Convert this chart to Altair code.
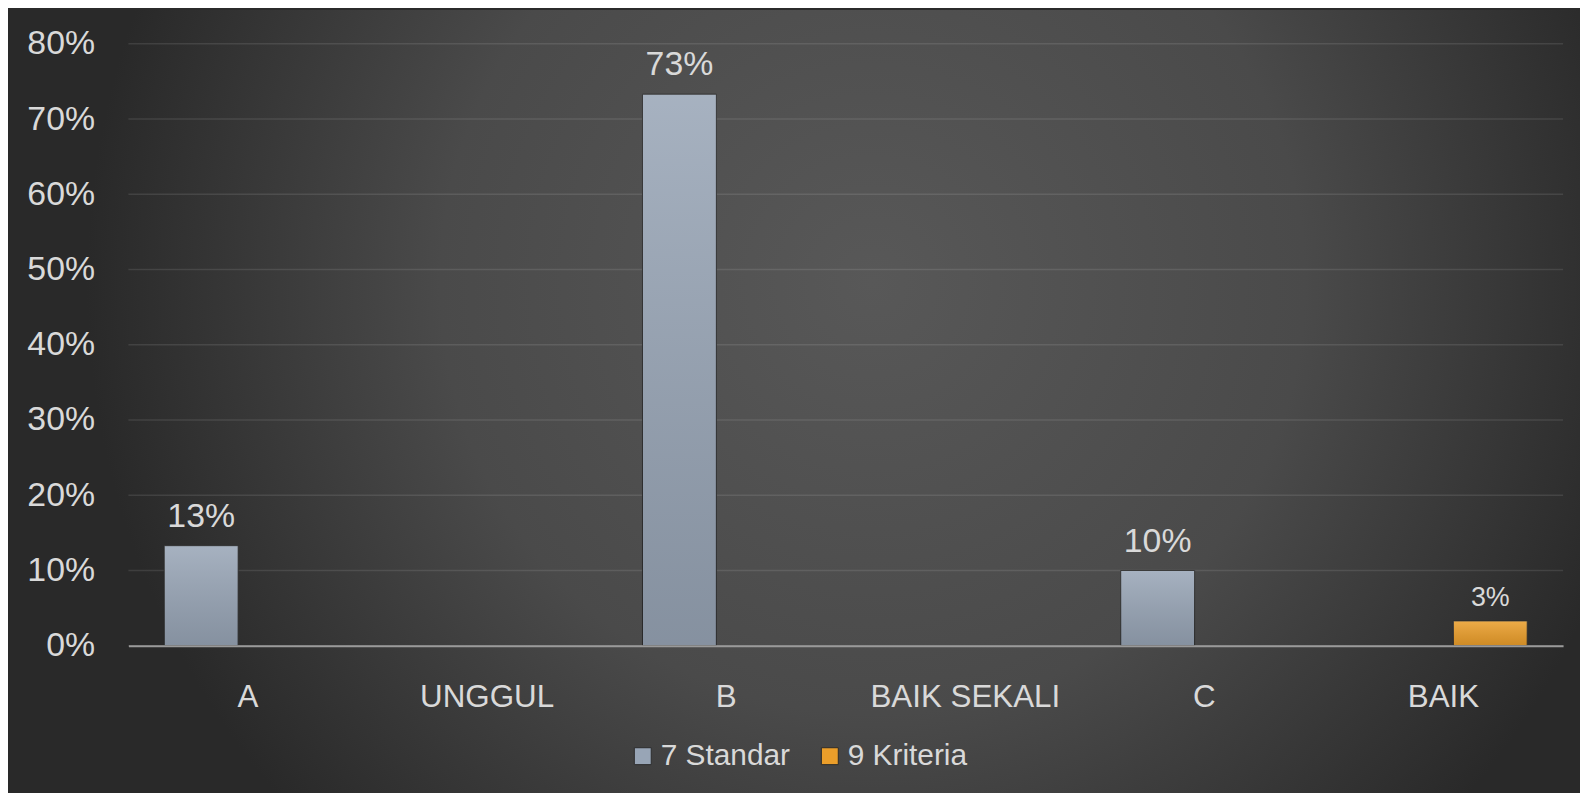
import altair as alt
import pandas as pd

categories = ["A", "UNGGUL", "B", "BAIK SEKALI", "C", "BAIK"]
series_names = ["7 Standar", "9 Kriteria"]
standar = [0.133, None, 0.733, None, 0.10, None]
kriteria = [None, None, None, None, None, 0.033]
y_ticks = [0.0, 0.1, 0.2, 0.3, 0.4, 0.5, 0.6, 0.7, 0.8]

rows = []
for c, v in zip(categories, standar):
    if v is not None:
        rows.append({"cat": c, "series": series_names[0], "value": v})
for c, v in zip(categories, kriteria):
    if v is not None:
        rows.append({"cat": c, "series": series_names[1], "value": v})
df = pd.DataFrame(rows)

W, H = 1442, 605
PL, PT, PR, PB = 121, 34, 17, 146
FONT = "Liberation Sans"
TXT = "#d9d9d9"

bg = alt.Chart(pd.DataFrame({"k": [0]})).mark_rect(
    fill=alt.RadialGradient(
        gradient="radial",
        x1=0.55, y1=0.23, r1=0.0,
        x2=0.55, y2=0.23, r2=0.5,
        stops=[
            alt.GradientStop(color="#585858", offset=0),
            alt.GradientStop(color="#4a4a4a", offset=0.55),
            alt.GradientStop(color="#292929", offset=1),
        ],
    ),
    clip=False,
).encode(
    x=alt.value(-PL), x2=alt.value(W + PR),
    y=alt.value(-PT), y2=alt.value(-PT + 1400),
)

grid = alt.Chart(pd.DataFrame({"v": y_ticks})).mark_rule(
    color="#ffffff", opacity=0.1, strokeWidth=1.5
).encode(
    y=alt.Y("v:Q", scale=alt.Scale(domain=[0, 0.8])),
    x=alt.value(0), x2=alt.value(W),
)

x_enc = alt.X(
    "cat:N",
    scale=alt.Scale(domain=categories, paddingInner=0.3, paddingOuter=0.15),
    axis=alt.Axis(
        title=None, labelAngle=0, labelFontSize=31.5, labelColor=TXT, labelFont=FONT,
        ticks=False, labelPadding=36, labelLimit=0, domainColor="#9a9a9a", domainWidth=2,
        zindex=2,
    ),
)
xo_enc = alt.XOffset("series:N", scale=alt.Scale(domain=series_names, paddingInner=0.21))
y_enc = alt.Y(
    "value:Q",
    scale=alt.Scale(domain=[0, 0.8]),
    axis=alt.Axis(
        title=None, values=y_ticks, format=".0%", grid=False, ticks=False, domain=False,
        labelFontSize=34, labelColor=TXT, labelFont=FONT, labelPadding=34, zindex=2,
    ),
)

bars = alt.Chart(df).mark_bar(stroke="#2b2b2b", strokeWidth=1).encode(
    x=x_enc,
    xOffset=xo_enc,
    y=y_enc,
    color=alt.Color(
        "series:N",
        scale=alt.Scale(domain=series_names, range=["#98a5b6", "#eb9e2a"]),
        legend=alt.Legend(
            title=None, orient="none", legendX=502, legendY=701, direction="horizontal",
            symbolType="square", symbolSize=289, symbolStrokeColor="#2b2b2b",
            symbolStrokeWidth=1, labelFontSize=30, labelColor=TXT, labelFont=FONT,
            labelOffset=3, columnPadding=24, padding=0, symbolOpacity=1,
        ),
    ),
)

shade = alt.Chart(df).mark_bar(
    fill=alt.LinearGradient(
        gradient="linear", x1=0, x2=0, y1=0, y2=1,
        stops=[
            alt.GradientStop(color="rgba(255,255,255,0.14)", offset=0),
            alt.GradientStop(color="rgba(0,0,0,0.12)", offset=1),
        ],
    ),
).encode(x=alt.X("cat:N"), xOffset=alt.XOffset("series:N"), y=alt.Y("value:Q"))

labels_main = alt.Chart(df).transform_filter(
    alt.datum.series == series_names[0]
).mark_text(
    baseline="alphabetic", dy=-19, color=TXT, font=FONT, fontSize=34
).encode(
    x=alt.X("cat:N"),
    xOffset=alt.XOffset("series:N"),
    y=alt.Y("value:Q"),
    text=alt.Text("value:Q", format=".0%"),
)

labels_second = alt.Chart(df).transform_filter(
    alt.datum.series == series_names[1]
).mark_text(
    baseline="alphabetic", dy=-15, color=TXT, font=FONT, fontSize=27
).encode(
    x=alt.X("cat:N"),
    xOffset=alt.XOffset("series:N"),
    y=alt.Y("value:Q"),
    text=alt.Text("value:Q", format=".0%"),
)

chart = alt.layer(bg, grid, bars, shade, labels_main, labels_second).properties(
    width=W, height=H,
    padding={"left": PL, "top": PT, "right": PR, "bottom": PB},
    autosize=alt.AutoSizeParams(type="none"),
    background="#2b2b2b",
).configure_view(stroke=None)

chart.save("out.html", embed_options={"renderer": "svg", "actions": False})
